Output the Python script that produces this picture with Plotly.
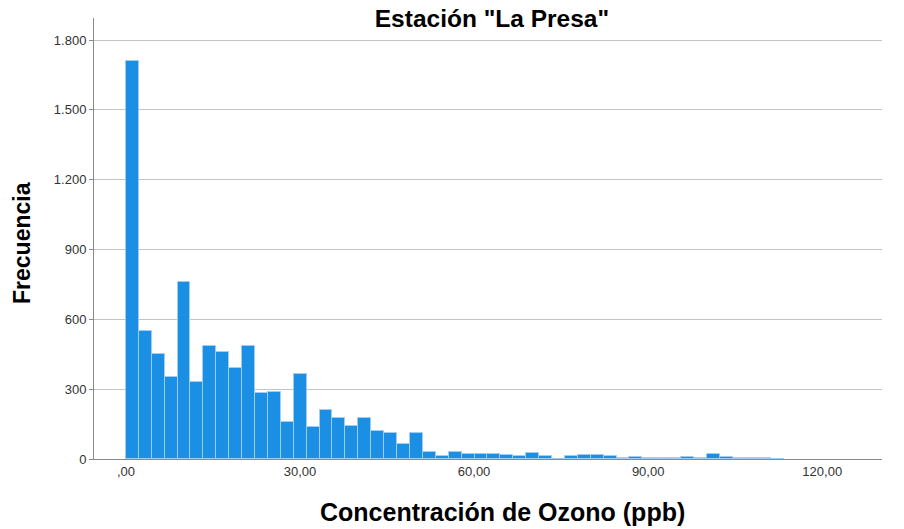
import plotly.graph_objects as go

# Histogram of hourly ozone concentration, station "La Presa"
bin_width = 2.225          # ppb per class
bin_start = 0.0            # lower edge of the first class
counts = [
    1710, 551, 451, 354, 762, 329, 487, 458, 390, 485,
    285, 289, 160, 365, 139, 210, 176, 143, 176, 120,
    113, 63, 110, 28, 14, 32, 21, 22, 20, 16,
    11, 24, 13, 0, 14, 18, 18, 12, 5, 10,
    5, 6, 4, 9, 6, 20, 9, 3, 5, 5,
    2,
]
centers = [bin_start + (i + 0.5) * bin_width for i in range(len(counts))]

x_tick_vals = [0, 30, 60, 90, 120]
x_tick_text = [",00", "30,00", "60,00", "90,00", "120,00"]
y_tick_vals = [0, 300, 600, 900, 1200, 1500, 1800]
y_tick_text = ["0", "300", "600", "900", "1.200", "1.500", "1.800"]

bar_color = "#1b8fe4"
edge_color = "#9fcdf3"
grid_color = "#c4c4c4"
axis_color = "#8a8a8a"
font_family = "Liberation Sans, Arial, sans-serif"

fig = go.Figure(
    go.Bar(
        x=centers,
        y=counts,
        width=bin_width,
        marker=dict(color=bar_color, line=dict(color=edge_color, width=1)),
        hovertemplate="%{x:.2f} ppb<br>%{y}<extra></extra>",
    )
)

fig.update_layout(
    width=904,
    height=529,
    margin=dict(l=94, r=22, t=18, b=70),
    paper_bgcolor="white",
    plot_bgcolor="white",
    showlegend=False,
    bargap=0,
    font=dict(family=font_family, color="#222222"),
    title=dict(
        text='<b>Estación "La Presa"</b>',
        x=0.505,
        xanchor="center",
        xref="paper",
        y=1.0,
        yref="container",
        yanchor="top",
        pad=dict(t=10),
        font=dict(size=24.5, color="#000000", family=font_family),
    ),
)

fig.update_xaxes(
    range=[-5.5, 130.3],
    automargin=False,
    tickmode="array",
    tickvals=x_tick_vals,
    ticktext=x_tick_text,
    tickfont=dict(size=13, color="#333333"),
    ticks="",
    showgrid=False,
    zeroline=False,
    showline=True,
    linecolor=axis_color,
    linewidth=1,
)

fig.update_yaxes(
    range=[0, 1895],
    automargin=False,
    tickmode="array",
    tickvals=y_tick_vals,
    ticktext=y_tick_text,
    tickfont=dict(size=13, color="#333333"),
    ticks="outside",
    ticklen=4,
    tickcolor=axis_color,
    showgrid=True,
    gridcolor=grid_color,
    gridwidth=1,
    zeroline=False,
    showline=True,
    linecolor=axis_color,
    linewidth=1,
)

# Axis titles placed as paper-referenced annotations
fig.add_annotation(
    text="<b>Concentración de Ozono (ppb)</b>",
    xref="paper", yref="paper",
    x=0.5185, y=-0.120,
    xanchor="center", yanchor="middle",
    showarrow=False,
    font=dict(size=25, color="#000000"),
)
fig.add_annotation(
    text="<b>Frecuencia</b>",
    xref="paper", yref="paper",
    x=-0.0914, y=0.4898,
    xanchor="center", yanchor="middle",
    textangle=-90,
    showarrow=False,
    font=dict(size=23, color="#000000"),
)

fig.write_html("out.html")
